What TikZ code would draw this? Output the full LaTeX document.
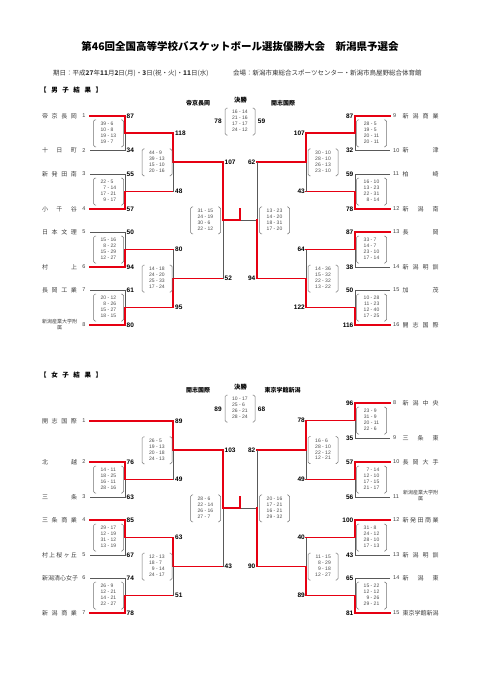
\documentclass[tikz,border=0pt]{standalone}
\usepackage{fontspec}
\setmainfont{Liberation Sans}
\newfontfamily\jp{Noto Sans CJK JP}
\definecolor{myred}{HTML}{E60012}
\def\spr#1{\sprA#1\relax}
\def\sprA#1#2{#1\ifx\relax#2\else\hfill\expandafter\sprA\expandafter#2\fi}
% first-round pair: x team side, x vertical, y1, y2, winner, x next
\newcommand\frm[6]{%
 \pgfmathsetmacro\ymid{(#3+#4)/2}%
 \draw[gl] (#1,#3) -- (#2,#3) -- (#2,#4) -- (#1,#4);%
 \ifnum#5=1 \draw[rl] (#1,#3) -- (#2,#3) -- (#2,\ymid) -- (#6,\ymid);%
 \else \draw[rl] (#1,#4) -- (#2,#4) -- (#2,\ymid) -- (#6,\ymid);\fi}
% later round join: x vertical, y1, y2, winner, x next
\newcommand\joinp[5]{%
 \pgfmathsetmacro\ymid{(#2+#3)/2}%
 \draw[gl] (#1,#2) -- (#1,#3);%
 \ifnum#4=1 \draw[rl] (#1,#2) -- (#1,\ymid) -- (#5,\ymid);%
 \else \draw[rl] (#1,#3) -- (#1,\ymid) -- (#5,\ymid);\fi}
% score box: name, cx, cy, rows
\newcommand\scb[4]{%
 \node[box] (#1) at (#2,#3) {\begin{tabular}{@{}r@{ - }l@{}}#4\end{tabular}};%
 \draw[bk,rounded corners=1.6pt] (#2-12.5,#3-13.5) -- (#2-15,#3-13.5) -- (#2-15,#3+13.5) -- (#2-12.5,#3+13.5);%
 \draw[bk,rounded corners=1.6pt] (#2+12.5,#3-13.5) -- (#2+15,#3-13.5) -- (#2+15,#3+13.5) -- (#2+12.5,#3+13.5);}
% teams
\newcommand\teamL[4]{%
 \node[team] (#1) at (59.5,#2) {\makebox[35pt][s]{\spr{#4}}};%
 \node[seed] (#1s) at (84,#2) {#3};}
\newcommand\teamR[4]{%
 \node[seed,anchor=west] (#1s) at (393,#2) {#3};%
 \node[team] (#1) at (420.5,#2) {\makebox[36pt][s]{\spr{#4}}};}
\newcommand\scL[4]{\node[sc,anchor=west] (#1) at (#2,#3) {#4};}
\newcommand\scR[4]{\node[sc,anchor=east] (#1) at (#2,#3) {#4};}
\begin{document}
\begin{tikzpicture}[x=1pt,y=-1pt,
 gl/.style={draw=black!65,line width=0.9pt},
 rl/.style={draw=myred,line width=1.9pt,line cap=rect},
 bk/.style={draw=black!55,line width=0.5pt},
 team/.style={inner sep=0pt,text=black!75,font=\jp\fontsize{6}{7}\selectfont},
 small/.style={inner sep=0pt,text=black!75,align=center,font=\jp\fontsize{5}{5.5}\selectfont},
 seed/.style={inner sep=0pt,text=black!75,font=\fontsize{5.5}{6}\selectfont},
 sc/.style={inner sep=0pt,font=\bfseries\fontsize{6.5}{7}\selectfont},
 box/.style={inner sep=0pt,text=black!70,font=\fontsize{5}{5.8}\selectfont},
 lab/.style={inner sep=0pt,font=\jp\bfseries\fontsize{6}{7}\selectfont}]
\fill[white] (0,0) rectangle (481,680);
\useasboundingbox (0,0) rectangle (481,680);

% ---------- titles ----------
\node[inner sep=0pt,font=\jp\bfseries\fontsize{10.5}{12}\selectfont] (title) at (240,47)
 {第46回全国高等学校バスケットボール選抜優勝大会\hspace{1em}新潟県予選会};
\node[inner sep=0pt,anchor=west,text=black!80,font=\jp\fontsize{6.5}{7}\selectfont] (date) at (53,73)
 {期日：平成\textbf{27}年\textbf{11}月\textbf{2}日(月)・\textbf{3}日(祝・火)・\textbf{11}日(水)};
\node[inner sep=0pt,anchor=west,text=black!80,font=\jp\fontsize{6.5}{7}\selectfont] (venue) at (233,73)
 {会場：新潟市東総合スポーツセンター・新潟市鳥屋野総合体育館};
\node[lab,anchor=west,font=\jp\bfseries\fontsize{6.5}{7}\selectfont] (mhead) at (40,90) {\makebox[62pt][s]{\spr{【男子結果】}}};
\node[lab,anchor=west,font=\jp\bfseries\fontsize{6.5}{7}\selectfont] (whead) at (40,375) {\makebox[62pt][s]{\spr{【女子結果】}}};

% ================= MEN =================
% lines left
\frm{90}{125}{116}{150.5}{1}{173}
\frm{90}{125}{174}{209}{2}{173}
\joinp{173}{133.25}{191.5}{1}{223}
\frm{90}{125}{232}{267}{2}{173}
\frm{90}{125}{290}{325}{2}{173}
\joinp{173}{249.5}{307.5}{2}{223}
% lines right
\frm{390}{355}{116}{150.5}{1}{306}
\frm{390}{355}{174}{209}{2}{306}
\joinp{306}{133.25}{191.5}{1}{257}
\frm{390}{355}{232}{267}{1}{306}
\frm{390}{355}{290}{325}{2}{306}
\joinp{306}{249.5}{307.5}{2}{257}
% semis and final connector
\draw[gl] (223,162.375) -- (223,278.5);
\draw[gl] (257,162.375) -- (257,278.5);
\draw[gl] (223,220.44) -- (257,220.44);
\draw[rl] (223,162.375) -- (223,220.44) -- (240,220.44) -- (240,209);
\draw[rl] (257,278.5) -- (257,220.44);

% teams
\teamL{m1}{116}{1}{帝京長岡}
\teamL{m2}{150.5}{2}{十日町}
\teamL{m3}{174}{3}{新発田南}
\teamL{m4}{209}{4}{小千谷}
\teamL{m5}{232}{5}{日本文理}
\teamL{m6}{267}{6}{村上}
\teamL{m7}{290}{7}{長岡工業}
\node[small] (m8) at (59.5,324.5) {新潟産業大学附\\属};
\node[seed] (m8s) at (84,325) {8};
\teamR{m9}{116}{9}{新潟商業}
\teamR{m10}{150.5}{10}{新津}
\teamR{m11}{174}{11}{柏崎}
\teamR{m12}{209}{12}{新潟南}
\teamR{m13}{232}{13}{長岡}
\teamR{m14}{267}{14}{新潟明訓}
\teamR{m15}{290}{15}{加茂}
\teamR{m16}{325}{16}{開志国際}

% scores left
\scL{ma1}{126.5}{116}{87}
\scL{ma2}{126.5}{150.5}{34}
\scL{ma3}{126.5}{174}{55}
\scL{ma4}{126.5}{209}{57}
\scL{ma5}{126.5}{232}{50}
\scL{ma6}{126.5}{267}{94}
\scL{ma7}{126.5}{290}{61}
\scL{ma8}{126.5}{325}{80}
\scL{mb1}{175}{133.25}{118}
\scL{mb2}{175}{191.5}{48}
\scL{mb3}{175}{249.5}{80}
\scL{mb4}{175}{307.5}{95}
\scL{mc1}{224.5}{162.4}{107}
\scL{mc2}{224.5}{278.5}{52}
% scores right
\scR{ma9}{353.5}{116}{87}
\scR{ma10}{353.5}{150.5}{32}
\scR{ma11}{353.5}{174}{59}
\scR{ma12}{353.5}{209}{78}
\scR{ma13}{353.5}{232}{87}
\scR{ma14}{353.5}{267}{38}
\scR{ma15}{353.5}{290}{50}
\scR{ma16}{353.5}{325}{116}
\scR{mb5}{305}{133.25}{107}
\scR{mb6}{305}{191.5}{43}
\scR{mb7}{305}{249.5}{64}
\scR{mb8}{305}{307.5}{122}
\scR{mc3}{255.5}{162.4}{62}
\scR{mc4}{255.5}{278.5}{94}

% score boxes
\scb{mx1}{108.5}{133.25}{39&6\\10&8\\19&13\\19&7}
\scb{mx2}{108.5}{191.5}{22&5\\7&14\\17&21\\9&17}
\scb{mx3}{157}{162.4}{44&9\\39&13\\15&10\\20&16}
\scb{mx4}{108.5}{249.5}{15&16\\8&22\\15&29\\12&27}
\scb{mx5}{108.5}{307.5}{20&12\\8&26\\15&27\\18&15}
\scb{mx6}{157}{278.5}{14&18\\24&20\\25&33\\17&24}
\scb{mx7}{205.5}{220.44}{31&15\\24&19\\30&6\\22&12}
\scb{mx8}{371.5}{133.25}{28&5\\19&5\\20&11\\20&11}
\scb{mx9}{371.5}{191.5}{16&10\\13&23\\22&31\\8&14}
\scb{mx10}{323}{162.4}{30&10\\28&10\\26&13\\23&10}
\scb{mx11}{371.5}{249.5}{33&7\\14&7\\23&10\\17&14}
\scb{mx12}{371.5}{307.5}{10&28\\11&23\\12&40\\17&25}
\scb{mx13}{323}{278.5}{14&36\\15&32\\22&32\\13&22}
\scb{mx14}{274.5}{220.44}{13&23\\14&20\\18&31\\17&20}
% final
\node[lab,font=\jp\bfseries\fontsize{6.3}{7}\selectfont] (mfin) at (240.5,100) {決勝};
\node[lab] (mfa) at (198,103) {帝京長岡};
\node[lab] (mfb) at (283,103) {開志国際};
\node[sc] (mfs1) at (218,121.5) {78};
\node[sc] (mfs2) at (261.5,121.5) {59};
\scb{mfx}{240}{121.5}{16&14\\21&16\\17&17\\24&12}

% ================= WOMEN =================
\draw[rl] (90,421) -- (173,421);
\frm{90}{125}{462}{497}{1}{173}
\joinp{173}{421}{479.5}{1}{223}
\frm{90}{125}{520}{555}{1}{173}
\frm{90}{125}{578}{613}{2}{173}
\joinp{173}{537.5}{595.5}{1}{223}
\frm{390}{355}{403}{438}{1}{306}
\frm{390}{355}{462}{497}{1}{306}
\joinp{306}{420.5}{479.5}{1}{257}
\frm{390}{355}{520}{555}{1}{306}
\frm{390}{355}{578}{613}{2}{306}
\joinp{306}{537.5}{595.5}{2}{257}
\draw[gl] (223,450.25) -- (223,566.5);
\draw[gl] (257,450) -- (257,566.5);
\draw[gl] (223,508.3) -- (257,508.3);
\draw[rl] (223,450.25) -- (223,508.3) -- (240,508.3) -- (240,497);
\draw[rl] (257,566.5) -- (257,508.3);

\teamL{w1}{421}{1}{開志国際}
\teamL{w2}{462}{2}{北越}
\teamL{w3}{497}{3}{三条}
\teamL{w4}{520}{4}{三条商業}
\teamL{w5}{555}{5}{村上桜ヶ丘}
\teamL{w6}{578}{6}{新潟清心女子}
\teamL{w7}{613}{7}{新潟商業}
\teamR{w8}{403}{8}{新潟中央}
\teamR{w9}{438}{9}{三条東}
\teamR{w10}{462}{10}{長岡大手}
\node[seed,anchor=west] (w11s) at (393,497) {11};
\node[small] (w11) at (420.5,495.5) {新潟産業大学附\\属};
\teamR{w12}{520}{12}{新発田商業}
\teamR{w13}{555}{13}{新潟明訓}
\teamR{w14}{578}{14}{新潟東}
\teamR{w15}{613}{15}{東京学館新潟}

\scL{wa1}{175}{421}{89}
\scL{wa2}{126.5}{462}{76}
\scL{wa3}{126.5}{497}{63}
\scL{wa4}{126.5}{520}{85}
\scL{wa5}{126.5}{555}{67}
\scL{wa6}{126.5}{578}{74}
\scL{wa7}{126.5}{613}{78}
\scL{wb1}{175}{479.5}{49}
\scL{wb2}{175}{537.5}{63}
\scL{wb3}{175}{595.5}{51}
\scL{wc1}{224.5}{450.25}{103}
\scL{wc2}{224.5}{566.5}{43}
\scR{wa8}{353.5}{403}{96}
\scR{wa9}{353.5}{438}{35}
\scR{wa10}{353.5}{462}{57}
\scR{wa11}{353.5}{497}{56}
\scR{wa12}{353.5}{520}{100}
\scR{wa13}{353.5}{555}{43}
\scR{wa14}{353.5}{578}{65}
\scR{wa15}{353.5}{613}{81}
\scR{wb4}{305}{420.5}{78}
\scR{wb5}{305}{479.5}{49}
\scR{wb6}{305}{537.5}{40}
\scR{wb7}{305}{595.5}{89}
\scR{wc3}{255.5}{450}{82}
\scR{wc4}{255.5}{566.5}{90}

\scb{wx1}{108.5}{479.5}{14&11\\18&25\\16&11\\28&16}
\scb{wx2}{157}{450.25}{26&5\\19&13\\20&18\\24&13}
\scb{wx3}{108.5}{537.5}{29&17\\12&19\\31&12\\13&19}
\scb{wx4}{108.5}{595.5}{26&9\\12&21\\14&21\\22&27}
\scb{wx5}{157}{566.5}{12&13\\18&7\\9&14\\24&17}
\scb{wx6}{205.5}{508.3}{28&6\\22&14\\26&16\\27&7}
\scb{wx7}{371.5}{420.5}{23&9\\31&9\\20&11\\22&6}
\scb{wx8}{371.5}{479.5}{7&14\\12&10\\17&15\\21&17}
\scb{wx9}{323}{450}{16&6\\28&10\\22&12\\12&21}
\scb{wx10}{371.5}{537.5}{31&8\\24&12\\28&10\\17&13}
\scb{wx11}{371.5}{595.5}{15&22\\12&12\\9&26\\29&21}
\scb{wx12}{323}{566.5}{11&15\\8&29\\9&18\\12&27}
\scb{wx13}{274.5}{508.3}{20&16\\17&21\\16&21\\29&32}

\node[lab,font=\jp\bfseries\fontsize{6.3}{7}\selectfont] (wfin) at (240.5,387) {決勝};
\node[lab] (wfa) at (198,390) {開志国際};
\node[lab] (wfb) at (282.5,390) {東京学館新潟};
\node[sc] (wfs1) at (218,409) {89};
\node[sc] (wfs2) at (261.5,409) {68};
\scb{wfx}{240}{408.5}{10&17\\25&6\\26&21\\28&24}
\end{tikzpicture}
\end{document}
